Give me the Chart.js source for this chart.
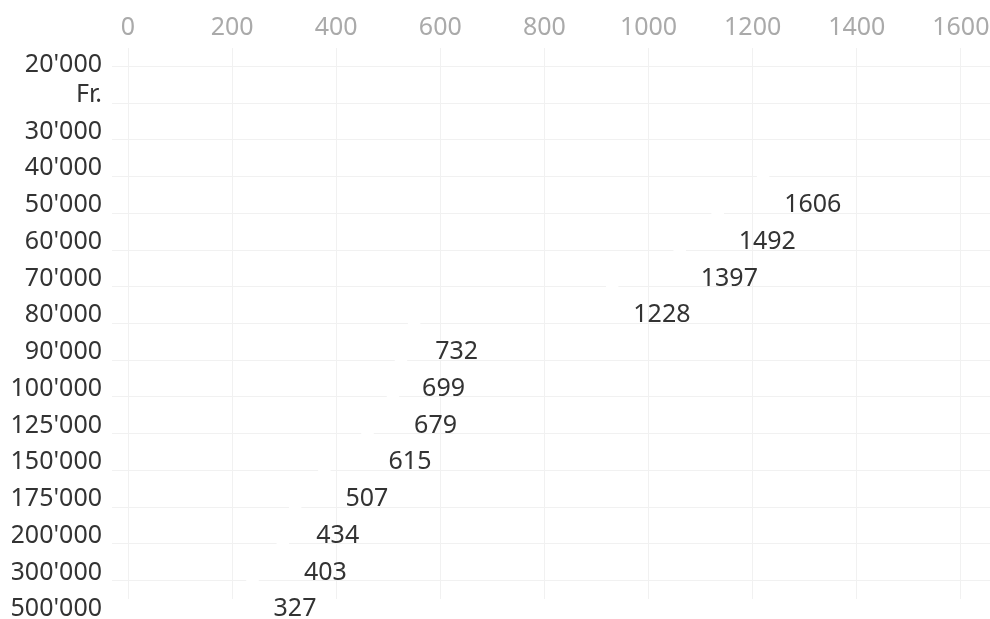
<!DOCTYPE html>
<html>
<head>
<meta charset="utf-8">
<script src="https://cdn.jsdelivr.net/npm/chart.js@4"></script>
<style>
  body { margin: 0; background: #fff; }
  #wrap { width: 990px; height: 619px; }
</style>
</head>
<body>
<div id="wrap"><canvas id="grafico" width="990" height="619"></canvas></div>
<script>
    // Categorie (asse verticale) - la prima etichetta va su due righe
    const categorie = [
        ["20'000", "Fr.", ""], "30'000", "40'000", "50'000", "60'000",
        "70'000", "80'000", "90'000", "100'000", "125'000", "150'000",
        "175'000", "200'000", "300'000", "500'000"
    ];
    // Valori (nessun valore per 20'000 - 40'000)
    const valori = [null, null, null, 1606, 1492, 1397, 1228, 732, 699, 679, 615, 507, 434, 403, 327];
    // Etichette dell'asse in alto
    const tickAsseX = [0, 200, 400, 600, 800, 1000, 1200, 1400, 1600];

    const font = "'Noto Sans', sans-serif";
    const grigioGriglia = '#f1f1f1';

    // Scrive i valori accanto alla fine di ogni barra
    const etichetteValori = {
        id: 'etichetteValori',
        afterDatasetsDraw(chart) {
            const ctx = chart.ctx;
            const meta = chart.getDatasetMeta(0);
            ctx.save();
            ctx.font = '25px ' + font;
            ctx.fillStyle = '#333333';
            ctx.textAlign = 'left';
            ctx.textBaseline = 'middle';
            meta.data.forEach((barra, i) => {
                const v = valori[i];
                if (v === null) return;
                ctx.fillText(String(v), barra.x + 15, barra.y + 28.5);
            });
            ctx.restore();
        }
    };

    const ctx = document.getElementById('grafico').getContext('2d');
    new Chart(ctx, {
        type: 'bar',
        data: {
            labels: categorie,
            datasets: [{
                data: valori,
                xAxisID: 'x2',
                backgroundColor: 'rgba(255,255,255,0)',
                borderColor: '#ffffff',
                borderWidth: { top: 0, bottom: 0, left: 0, right: 12 },
                barThickness: 4
            }]
        },
        options: {
            indexAxis: 'y',
            responsive: false,
            animation: false,
            layout: { padding: { left: 12, right: 0, top: 0, bottom: 20 } },
            plugins: {
                legend: { display: false },
                tooltip: { enabled: false }
            },
            scales: {
                x: {
                    position: 'top',
                    min: 0,
                    max: 1656,
                    afterBuildTicks: (scala) => {
                        scala.ticks = tickAsseX.map(v => ({ value: v }));
                    },
                    afterFit: (scala) => {
                        scala.height = 48;
                        scala.paddingLeft = 0;
                        scala.paddingRight = 0;
                    },
                    grid: { color: grigioGriglia, drawTicks: false },
                    border: { display: false },
                    ticks: {
                        color: '#aaaaaa',
                        padding: 5,
                        font: { size: 25, family: font },
                        callback: (v) => String(v)
                    }
                },
                x2: {
                    display: false,
                    min: 0,
                    max: 2159
                },
                y: {
                    afterFit: (scala) => {
                        scala.width = 116;
                        scala.paddingTop = 0;
                        scala.paddingBottom = 0;
                    },
                    grid: { color: grigioGriglia, offset: false, drawTicks: true, tickLength: 16 },
                    border: { display: false },
                    ticks: {
                        color: '#333333',
                        padding: 10,
                        labelOffset: 28.5,
                        autoSkip: false,
                        font: { size: 25, family: font, lineHeight: 1.2 }
                    }
                }
            }
        },
        plugins: [etichetteValori]
    });
</script>
</body>
</html>
